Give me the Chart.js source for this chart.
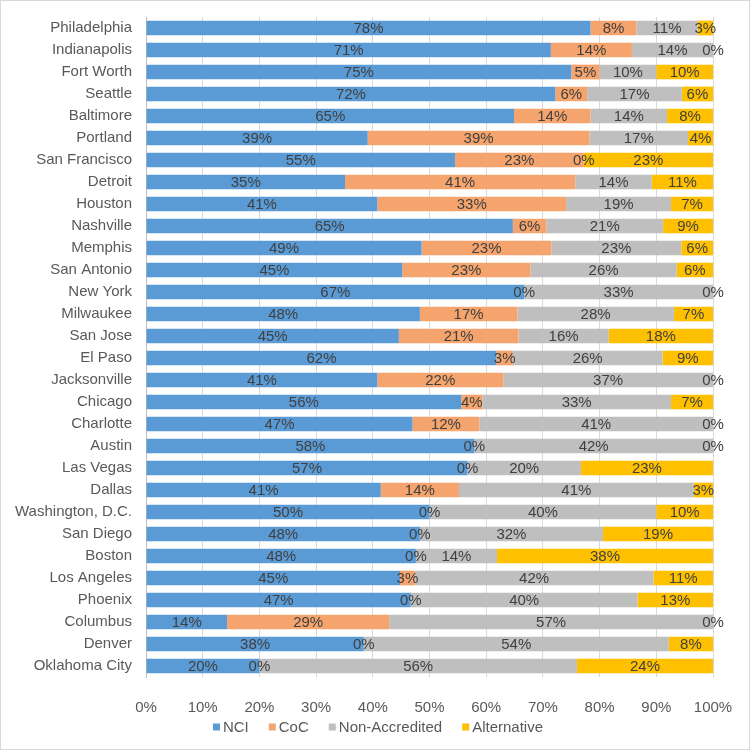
<!DOCTYPE html>
<html lang="en">
<head>
<meta charset="utf-8">
<title>Accreditation by city</title>
<script src="https://cdn.jsdelivr.net/npm/chart.js@4.4.0/dist/chart.umd.min.js"></script>
<style>
  body { margin: 0; background: #fff; }
  #wrap { width: 748px; height: 748px; border: 1px solid #D9D9D9; }
</style>
</head>
<body>
<div id="wrap"><canvas id="chart" width="748" height="748"></canvas></div>
<script>
// shares per city, in percent (labels show the rounded value)
var cities = ["Philadelphia", "Indianapolis", "Fort Worth", "Seattle", "Baltimore", "Portland",
  "San Francisco", "Detroit", "Houston", "Nashville", "Memphis", "San Antonio", "New York",
  "Milwaukee", "San Jose", "El Paso", "Jacksonville", "Chicago", "Charlotte", "Austin",
  "Las Vegas", "Dallas", "Washington, D.C.", "San Diego", "Boston", "Los Angeles", "Phoenix",
  "Columbus", "Denver", "Oklahoma City"];
var nci = [78.4, 71.4, 75, 72.2, 64.9, 39.1, 54.5, 35.1, 40.8, 64.7, 48.6, 45.2, 66.7,
  48.3, 44.6, 61.8, 40.8, 55.6, 47.0, 57.9, 56.7, 41.4, 50, 48.3, 47.6, 44.8, 46.7,
  14.3, 38.4, 20];
var coc = [8.1, 14.3, 5, 5.6, 13.5, 39.1, 22.7, 40.6, 33.3, 5.9, 22.9, 22.6, 0,
  17.2, 21.1, 2.9, 22.2, 3.7, 11.8, 0, 0, 13.8, 0, 0, 0, 2.6, 0,
  28.6, 0, 0];
var nonAccredited = [10.8, 14.3, 10, 16.7, 13.5, 17.4, 0, 13.5, 18.5, 20.6, 22.9, 25.8, 33.3,
  27.6, 15.9, 26.4, 37.0, 33.3, 41.2, 42.1, 20.0, 41.4, 40, 32.3, 14.3, 42.1, 40.0,
  57.1, 53.8, 56];
var alternative = [2.7, 0, 10, 5.5, 8.1, 4.4, 22.8, 10.8, 7.4, 8.8, 5.6, 6.4, 0,
  6.9, 18.4, 8.9, 0, 7.4, 0, 0, 23.3, 3.4, 10, 19.4, 38.1, 10.5, 13.3,
  0, 7.8, 24];
var xTicks = [0, 10, 20, 30, 40, 50, 60, 70, 80, 90, 100];

var font = '"Liberation Sans", Arial, sans-serif';

// draws the value label in the middle of every segment
var barLabels = {
  id: 'barLabels',
  afterDatasetsDraw: function(chart) {
    var ctx = chart.ctx;
    ctx.save();
    ctx.font = '15px ' + font;
    ctx.fillStyle = '#404040';
    ctx.textAlign = 'center';
    ctx.textBaseline = 'middle';
    chart.data.datasets.forEach(function(ds, i) {
      chart.getDatasetMeta(i).data.forEach(function(bar, j) {
        var p = bar.getProps(['x', 'y', 'base'], true);
        ctx.fillText(Math.round(ds.data[j]) + '%', (p.x + p.base) / 2, p.y + 1);
      });
    });
    ctx.restore();
  }
};

// excel-like legend row under the axis: small square, tight gap, wide spacing
var bottomLegend = {
  id: 'bottomLegend',
  afterDraw: function(chart) {
    var ctx = chart.ctx;
    var box = 7, gap = 3, spacing = 20;
    var y = chart.height - 22;
    ctx.save();
    ctx.font = '15px ' + font;
    ctx.textBaseline = 'middle';
    var total = 0;
    chart.data.datasets.forEach(function(ds, i) {
      total += box + gap + ctx.measureText(ds.label).width + (i ? spacing : 0);
    });
    var x = chart.width / 2 + 3 - total / 2;
    chart.data.datasets.forEach(function(ds) {
      ctx.fillStyle = ds.backgroundColor;
      ctx.fillRect(x, y - box / 2, box, box);
      x += box + gap;
      ctx.fillStyle = '#595959';
      ctx.fillText(ds.label, x, y + 1);
      x += ctx.measureText(ds.label).width + spacing;
    });
    ctx.restore();
  }
};

var chart = new Chart(document.getElementById('chart').getContext('2d'), {
  type: 'bar',
  data: {
    labels: cities,
    datasets: [
      { label: 'NCI', data: nci, backgroundColor: '#5B9BD5' },
      { label: 'CoC', data: coc, backgroundColor: '#F4A46C' },
      { label: 'Non-Accredited', data: nonAccredited, backgroundColor: '#BFBFBF' },
      { label: 'Alternative', data: alternative, backgroundColor: '#FFC000' }
    ]
  },
  plugins: [barLabels, bottomLegend],
  options: {
    indexAxis: 'y',
    responsive: false,
    animation: false,
    devicePixelRatio: 1,
    categoryPercentage: 1,
    barPercentage: 0.67,
    layout: { padding: { top: 16, right: 36, bottom: 32, left: 0 } },
    scales: {
      x: {
        stacked: true,
        min: 0,
        max: 100,
        afterBuildTicks: function(scale) {
          scale.ticks = xTicks.map(function(v) { return { value: v }; });
        },
        afterFit: function(scale) {
          scale.height = 40;
          scale.paddingLeft = 0;
          scale.paddingRight = 0;
        },
        grid: { color: '#D9D9D9', drawTicks: false },
        border: { display: false },
        ticks: {
          padding: 22,
          maxRotation: 0,
          color: '#595959',
          font: { family: font, size: 15 },
          callback: function(v) { return v + '%'; }
        }
      },
      y: {
        stacked: true,
        afterFit: function(scale) {
          scale.width = 145;
          scale.paddingTop = 0;
          scale.paddingBottom = 0;
        },
        grid: { display: false, drawTicks: false },
        border: { display: true, color: '#BFBFBF' },
        ticks: {
          padding: 14,
          autoSkip: false,
          color: '#595959',
          font: { family: font, size: 15 }
        }
      }
    },
    plugins: {
      tooltip: { enabled: false },
      legend: { display: false }
    }
  }
});
</script>
</body>
</html>
